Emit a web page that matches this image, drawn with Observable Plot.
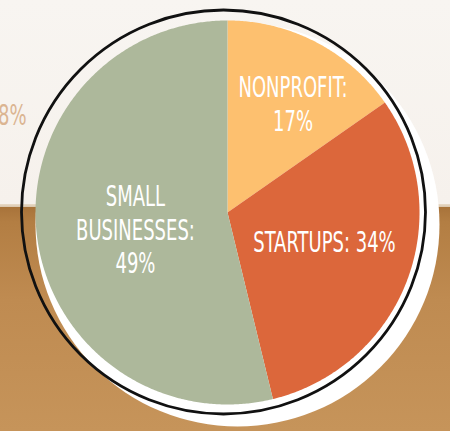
<!DOCTYPE html>
<html><head><meta charset="utf-8">
<script src="https://cdn.jsdelivr.net/npm/d3@7"></script>
<script src="https://cdn.jsdelivr.net/npm/@observablehq/plot@0.6"></script>
<style>
html,body{margin:0;padding:0;}
body{width:450px;height:431px;overflow:hidden;
background:linear-gradient(to bottom,#f8f5f1 0px,#f6f1ec 204px,#e8dbc9 204px,#d9c5ab 207px,#a8733a 207px,#b37e43 222px,#bf8b51 300px,#c6945a 431px);}
#chart svg{display:block;}
</style></head><body><div id="chart"></div><script>
// data
const categories = ["Nonprofit", "Startups", "Small businesses"];
const shares = [15.3, 30.9, 53.8];           // slice sizes as drawn in the picture
const labelLines = ["NONPROFIT:\n17%", "STARTUPS: 34%", "SMALL\nBUSINESSES:\n49%"];
const colors = ["#fdc06f", "#dc673b", "#adb89b"];
const strayLabel = "8%";

const total = d3.sum(shares);
let acc = 0;
const slices = categories.map((c, i) => {
  const a0 = acc / total * 2 * Math.PI; acc += shares[i];
  const a1 = acc / total * 2 * Math.PI;
  return {category: c, a0, a1, mid: (a0 + a1) / 2, label: labelLines[i]};
});
const outline = slices.flatMap(s => {
  const n = Math.max(2, Math.ceil((s.a1 - s.a0) / (Math.PI / 360)));
  const pts = [{category: s.category, x: 0, y: 0}];
  for (let k = 0; k <= n; k++) {
    const a = s.a0 + (s.a1 - s.a0) * k / n;
    pts.push({category: s.category, x: Math.sin(a), y: Math.cos(a)});
  }
  pts.push({category: s.category, x: 0, y: 0});
  return pts;
});
const font = "'Liberation Sans Narrow','DejaVu Sans Condensed',sans-serif";
const nudges = [[16.7, -15.9], [-1.8, -8.3], [12.8, 3.9]];
const labelMarks = slices.map((s, i) => Plot.text([s], {
  x: d => 0.55 * Math.sin(d.mid), y: d => 0.55 * Math.cos(d.mid), text: "label",
  dx: nudges[i][0], dy: nudges[i][1], fill: "white", fontSize: 28, lineHeight: 1.2,
  fontFamily: font
}));

const chart = Plot.plot({
  width: 450, height: 431, margin: 0,
  x: {domain: [-1, 1], range: [35, 419], axis: null},
  y: {domain: [-1, 1], range: [404, 20], axis: null},
  color: {domain: categories, range: colors},
  style: {background: "transparent", overflow: "visible"},
  marks: [
    Plot.dot([0], {x: 0, y: 0, r: 202, dx: 10, dy: 12, fill: "white", stroke: null}),
    Plot.dot([0], {x: 0, y: 0, r: 202, dx: -4, dy: -0.5, fill: "none", stroke: "#111", strokeWidth: 2.8}),
    Plot.line(outline, {x: "x", y: "y", z: "category", fill: "category", stroke: null}),
    ...labelMarks,
    Plot.text([strayLabel], {frameAnchor: "left", textAnchor: "end", dx: 26, dy: -100,
      fill: "#dbb592", fontSize: 28, fontFamily: font})
  ]
});
document.getElementById("chart").appendChild(chart);
// condense the lettering horizontally (horizontal scale about the text anchor)
chart.querySelectorAll("text").forEach(el => {
  const t = el.getAttribute("transform") || "";
  el.setAttribute("transform", t + " scale(0.715,1)");
});
</script></body></html>
